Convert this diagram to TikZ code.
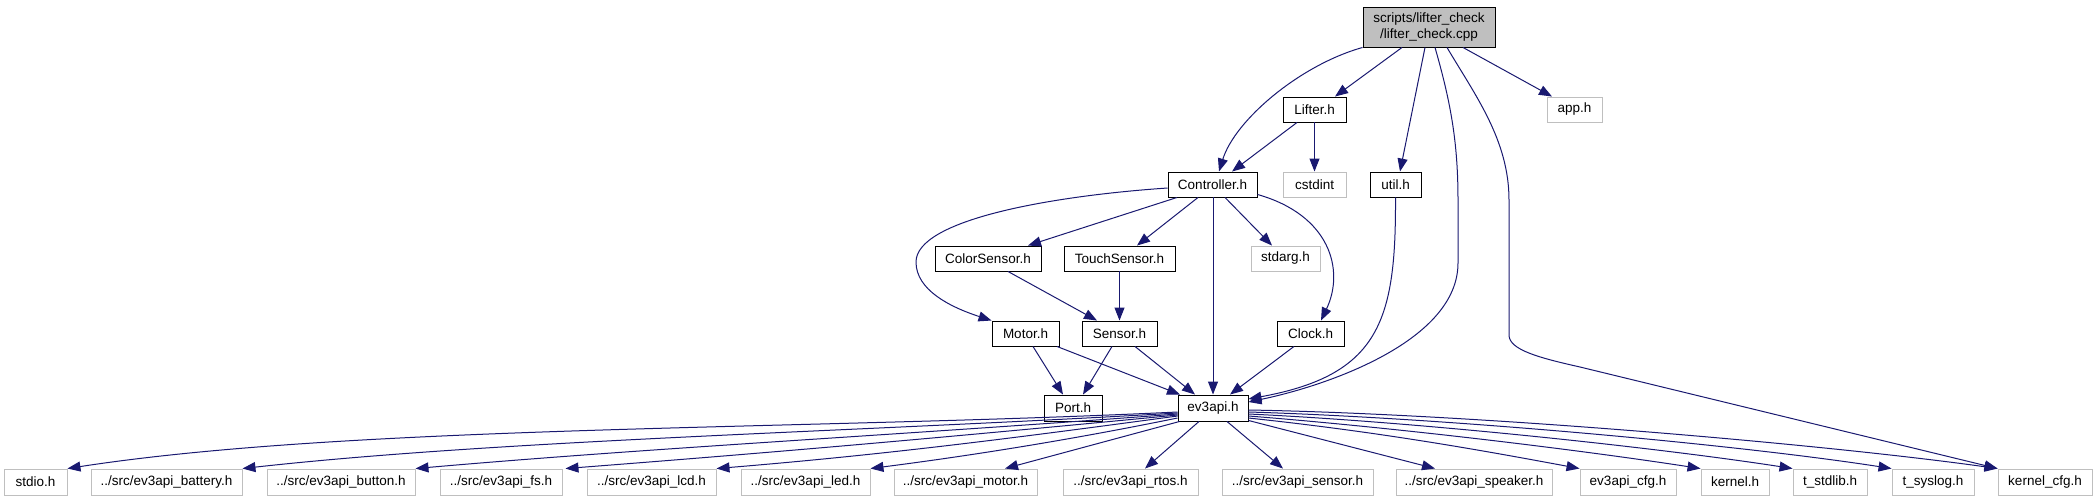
\documentclass[tikz,border=0pt]{standalone}
\usepackage{fontspec}
\setmainfont{Liberation Sans}
\usetikzlibrary{arrows.meta,calc}
\definecolor{edgeblue}{HTML}{191970}
\definecolor{undoc}{HTML}{BFBFBF}
\tikzset{
  box/.style={draw=black, line width=0.95pt, fill=white, inner sep=0pt,
    font=\fontsize{13.5}{15.5}\selectfont, text=black, minimum height=25pt},
  gbox/.style={box, draw=undoc, minimum height=26pt},
  rootbox/.style={box, fill=undoc, align=center, minimum height=40pt},
  edge/.style={draw=edgeblue, line width=1pt, -{Triangle[length=13pt,width=10pt]}}
}
\begin{document}
\begin{tikzpicture}[x=1pt,y=-1pt]
\path[use as bounding box] (0,0) rectangle (2097,501);
% nodes
\node[rootbox, minimum width=132pt] (root) at (1429,27) {scripts/lifter\_check\\/lifter\_check.cpp};
\node[box, minimum width=63pt] (lifter) at (1314.5,109.5) {Lifter.h};
\node[gbox, minimum width=55pt, minimum height=25pt] (app) at (1574.5,109.5) {app.h};
\node[box, minimum width=89pt] (ctrl) at (1212.5,184.5) {Controller.h};
\node[gbox, minimum width=63pt, minimum height=25pt] (cstdint) at (1314.5,184.5) {cstdint};
\node[box, minimum width=51pt] (util) at (1395.5,184.5) {util.h};
\node[box, minimum width=106pt] (colors) at (988,258.5) {ColorSensor.h};
\node[box, minimum width=111pt] (touch) at (1119.5,258.5) {TouchSensor.h};
\node[gbox, minimum width=69pt, minimum height=25pt] (stdarg) at (1285.5,258.5) {stdarg.h};
\node[box, minimum width=67pt] (motor) at (1025.5,333.5) {Motor.h};
\node[box, minimum width=75pt] (sensor) at (1119.5,333.5) {Sensor.h};
\node[box, minimum width=67pt] (clock) at (1310.5,333.5) {Clock.h};
\node[box, minimum width=58pt, minimum height=26pt] (port) at (1073,408) {Port.h};
\node[box, minimum width=70pt, minimum height=26pt] (ev3api) at (1213,408) {ev3api.h};
% bottom row
\node[gbox, minimum width=63pt] (stdio) at (35.5,482) {stdio.h};
\node[gbox, minimum width=151pt] (battery) at (166.5,482) {../src/ev3api\_battery.h};
\node[gbox, minimum width=148pt] (button) at (341,482) {../src/ev3api\_button.h};
\node[gbox, minimum width=122pt] (fs) at (501,482) {../src/ev3api\_fs.h};
\node[gbox, minimum width=129pt] (lcd) at (651.5,482) {../src/ev3api\_lcd.h};
\node[gbox, minimum width=129pt] (led) at (805.5,482) {../src/ev3api\_led.h};
\node[gbox, minimum width=143pt] (evmotor) at (965.5,482) {../src/ev3api\_motor.h};
\node[gbox, minimum width=135pt] (rtos) at (1130.5,482) {../src/ev3api\_rtos.h};
\node[gbox, minimum width=151pt] (evsensor) at (1297.5,482) {../src/ev3api\_sensor.h};
\node[gbox, minimum width=156pt] (speaker) at (1474,482) {../src/ev3api\_speaker.h};
\node[gbox, minimum width=96pt] (cfg) at (1628,482) {ev3api\_cfg.h};
\node[gbox, minimum width=68pt] (kernel) at (1735,482) {kernel.h};
\node[gbox, minimum width=74pt] (tstdlib) at (1830,482) {t\_stdlib.h};
\node[gbox, minimum width=82pt] (tsyslog) at (1933,482) {t\_syslog.h};
\node[gbox, minimum width=94pt] (kernelcfg) at (2045,482) {kernel\_cfg.h};
% edges from root
\draw[edge] (root.south west) .. controls (1300,65) and (1235,120) .. ($(ctrl.north)+(6.5,0)$);
\draw[edge] ($(root.south)+(-27,0)$) -- ($(lifter.north)+(20.5,0)$);
\draw[edge] ($(root.south)+(-4,0)$) -- ($(util.north)+(4.5,0)$);
\draw[edge] ($(root.south)+(6,0)$) .. controls (1450,100) and (1458,140) .. (1458,200) -- (1458,263)
  .. controls (1458,340) and (1330,385) .. ($(ev3api.east)+(0,-6)$);
\draw[edge] ($(root.south)+(18,0)$) .. controls (1475,95) and (1509,140) .. (1509,200) -- (1509,335)
  .. controls (1509,350) and (1540,358) .. (1580,367) -- (kernelcfg.north west);
\draw[edge] ($(root.south)+(34,0)$) -- ($(app.north)+(-22.5,0)$);
% Lifter
\draw[edge] ($(lifter.south)+(-17.5,0)$) -- ($(ctrl.north)+(19.5,0)$);
\draw[edge] (lifter.south) -- (cstdint.north);
% Controller
\draw[edge] ($(ctrl.west)+(0,3.5)$) .. controls (1050,196) and (916,220) .. (916,262)
  .. controls (916,290) and (950,307) .. (motor.north west);
\draw[edge] ($(ctrl.south)+(-35.5,0)$) -- ($(colors.north)+(40,0)$);
\draw[edge] ($(ctrl.south)+(-14.5,0)$) -- ($(touch.north)+(17.5,0)$);
\draw[edge] ($(ctrl.south)+(12.5,0)$) -- ($(stdarg.north)+(-13.5,0)$);
\draw[edge] ($(ctrl.south east)+(0,-3)$) .. controls (1330,215) and (1345,270) .. ($(clock.north)+(10.5,0)$);
\draw[edge] ($(ctrl.south)+(0.5,0)$) -- (ev3api.north);
% util
\draw[edge] (util.south) .. controls (1396,320) and (1380,375) .. ($(ev3api.east)+(0,-9)$);
% sensors
\draw[edge] ($(colors.south)+(20,0)$) -- ($(sensor.north)+(-22.5,0)$);
\draw[edge] (touch.south) -- (sensor.north);
\draw[edge] ($(motor.south)+(7.5,0)$) -- ($(port.north)+(-10,0)$);
\draw[edge] ($(motor.south)+(31.5,0)$) -- ($(ev3api.north)+(-33,0)$);
\draw[edge] ($(sensor.south)+(-7.5,0)$) -- ($(port.north)+(10,0)$);
\draw[edge] ($(sensor.south)+(15.5,0)$) -- ($(ev3api.north)+(-18,0)$);
\draw[edge] ($(clock.south)+(-16.5,0)$) -- ($(ev3api.north)+(17,0)$);
% ev3api fan out
\draw[edge] ($(ev3api.west)+(0,4)$) .. controls (800,430) and (350,425) .. (stdio.north east);
\draw[edge] ($(ev3api.west)+(0,5)$) .. controls (850,432) and (500,440) .. (battery.north east);
\draw[edge] ($(ev3api.west)+(0,6)$) .. controls (900,435) and (650,448) .. (button.north east);
\draw[edge] ($(ev3api.west)+(0,7)$) .. controls (950,437) and (780,452) .. ($(fs.north east)+(3,0)$);
\draw[edge] ($(ev3api.west)+(0,8)$) .. controls (1000,440) and (880,455) .. (lcd.north east);
\draw[edge] ($(ev3api.west)+(0,10)$) .. controls (1060,442) and (960,457) .. (led.north east);
\draw[edge] ($(ev3api.south west)+(2,0)$) -- ($(evmotor.north)+(39.5,0)$);
\draw[edge] ($(ev3api.south)+(-14,0)$) -- ($(rtos.north)+(14.5,0)$);
\draw[edge] ($(ev3api.south)+(14,0)$) -- ($(evsensor.north)+(-14.5,0)$);
\draw[edge] ($(ev3api.south east)+(0,-1)$) -- ($(speaker.north)+(-39,0)$);
\draw[edge] ($(ev3api.east)+(0,10)$) .. controls (1380,432) and (1480,450) .. (cfg.north west);
\draw[edge] ($(ev3api.east)+(0,8)$) .. controls (1400,428) and (1580,450) .. (kernel.north west);
\draw[edge] ($(ev3api.east)+(0,6)$) .. controls (1420,422) and (1660,448) .. (tstdlib.north west);
\draw[edge] ($(ev3api.east)+(0,4)$) .. controls (1450,418) and (1740,445) .. (tsyslog.north west);
\draw[edge] ($(ev3api.east)+(0,2)$) .. controls (1480,414) and (1830,445) .. (kernelcfg.north west);
\end{tikzpicture}
\end{document}
